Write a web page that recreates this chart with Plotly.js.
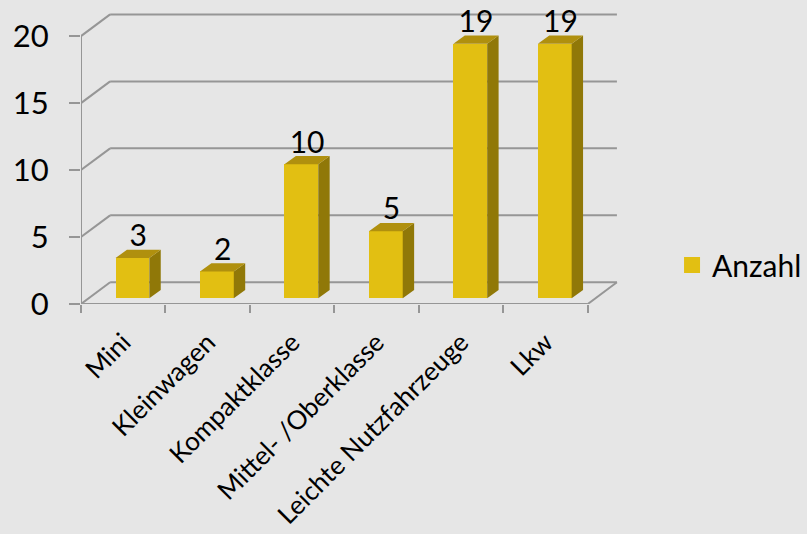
<!DOCTYPE html>
<html>
<head>
<meta charset="utf-8">
<script src="https://cdn.plot.ly/plotly-3.0.1.min.js"></script>
<style>html,body{margin:0;padding:0;background:#e6e6e6;}#chart{width:807px;height:534px;}</style>
</head>
<body>
<div id="chart"></div>
<script>
// ---- data ----
const categories = ["Mini", "Kleinwagen", "Kompaktklasse", "Mittel- /Oberklasse", "Leichte Nutzfahrzeuge", "Lkw"];
const values = [3, 2, 10, 5, 19, 19];
const yTicks = [0, 5, 10, 15, 20];
const seriesName = "Anzahl";

// ---- pseudo-3D geometry (axis units) ----
const wallDX = 0.345, wallDY = 1.62;   // depth of the floor / back wall
const barW = 0.40, barShift = 0.109, barBase = 0.43; // front face placement
const barDX = 0.135, barDY = 0.62;     // depth of a bar
const labelDrop = 0.3;                 // data label nudge
const FRONT = "#E2BF12", TOP = "#B0900E", SIDE = "#907808";
const GRID = "#969696";
const FONT = "Lato, 'Open Sans', sans-serif";

const idx = categories.map((c, i) => i);
const x0 = -0.5, x1 = categories.length - 0.5;

// faces
const sideX = [], sideY = [], topX = [], topY = [], lblX = [], lblY = [];
values.forEach((v, i) => {
  const l = i + barShift - barW / 2, r = i + barShift + barW / 2;
  const b = barBase, t = barBase + v;
  sideX.push(r, r + barDX, r + barDX, r, r, null);
  sideY.push(b, b + barDY, t + barDY, t, b, null);
  topX.push(l, r, r + barDX, l + barDX, l, null);
  topY.push(t, t, t + barDY, t + barDY, t, null);
  lblX.push(i + barShift + barDX / 2);
  lblY.push(t + barDY - labelDrop);
});

const traces = [
  {type: "bar", x: idx.map(i => i + barShift), y: values, base: values.map(() => barBase),
   width: barW, marker: {color: FRONT, line: {width: 0}}, showlegend: false, hoverinfo: "skip"},
  {type: "scatter", x: sideX, y: sideY, mode: "lines", fill: "toself", fillcolor: SIDE,
   line: {width: 0, color: SIDE}, showlegend: false, hoverinfo: "skip"},
  {type: "scatter", x: topX, y: topY, mode: "lines", fill: "toself", fillcolor: TOP,
   line: {width: 0, color: TOP}, showlegend: false, hoverinfo: "skip"},
  {type: "scatter", x: lblX, y: lblY, mode: "text", text: values.map(String),
   textposition: "top center", textfont: {family: FONT, size: 30, color: "#000"},
   cliponaxis: false, showlegend: false, hoverinfo: "skip"},
  {type: "scatter", x: [null], y: [null], mode: "markers", name: seriesName,
   marker: {symbol: "square", size: 20, color: FRONT}}
];

// gridlines / walls as shapes
const shapes = [];
const ln = (xa, ya, xb, yb) => shapes.push({type: "line", xref: "x", yref: "y", x0: xa, y0: ya, x1: xb, y1: yb,
  line: {color: GRID, width: 2}, layer: "below"});
yTicks.forEach(v => {
  ln(x0, v, x0 + wallDX, v + wallDY);
  ln(x0 + wallDX, v + wallDY, x1 + wallDX, v + wallDY);
});
ln(x0, 0, x1, 0);
ln(x1, 0, x1 + wallDX, wallDY);
ln(x0, 0, x0, yTicks[yTicks.length - 1]);

const layout = {
  width: 807, height: 534,
  margin: {l: 81, r: 185, t: 12, b: 230, autoexpand: false},
  paper_bgcolor: "#e6e6e6", plot_bgcolor: "#e6e6e6",
  font: {family: FONT, color: "#000"},
  bargap: 0,
  xaxis: {
    range: [x0, x1 + wallDX + 0.06], tickmode: "array", tickvals: idx, ticktext: categories,
    tickangle: -45, tickfont: {family: FONT, size: 26}, ticks: "", ticklabelstandoff: 17,
    showgrid: false, zeroline: false, showline: false, fixedrange: true, automargin: false,
    minor: {tickmode: "array", tickvals: idx.concat([categories.length]).map(i => i - 0.5),
            ticks: "outside", ticklen: 8, tickwidth: 2, tickcolor: GRID, showgrid: false}
  },
  yaxis: {
    range: [0, 21.8], tickmode: "array", tickvals: yTicks, ticks: "outside", ticklen: 11,
    tickwidth: 2, tickcolor: GRID, tickfont: {family: FONT, size: 31}, ticklabelstandoff: 14,
    showgrid: false, zeroline: false, showline: false, fixedrange: true, automargin: false
  },
  showlegend: true,
  legend: {x: 1.0925, xanchor: "left", y: 0.1336, yanchor: "middle",
           font: {family: FONT, size: 30}, bgcolor: "rgba(0,0,0,0)"},
  shapes: shapes
};

Plotly.newPlot("chart", traces, layout, {staticPlot: true, displayModeBar: false});
</script>
</body>
</html>
